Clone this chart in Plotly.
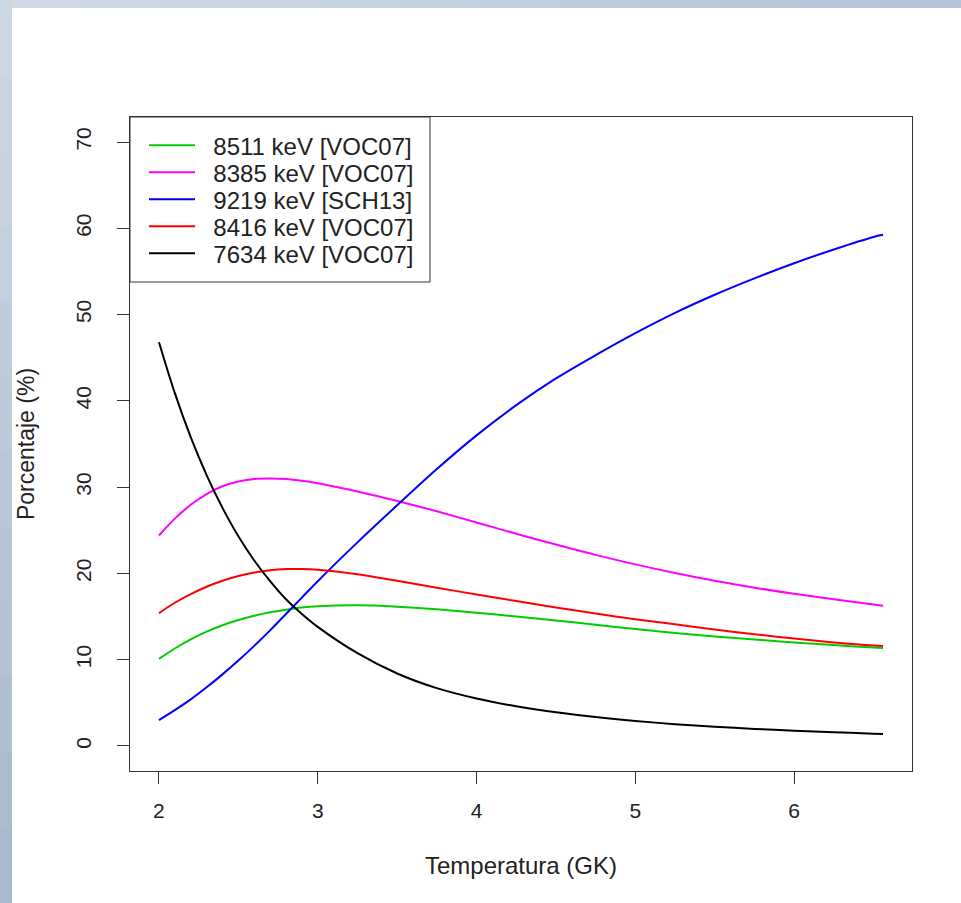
import plotly.graph_objects as go

# Temperature grid (GK)
temperatura = [2.0, 2.1, 2.2, 2.3, 2.4, 2.5, 2.6, 2.7, 2.8, 2.9, 3.0,
               3.25, 3.5, 3.75, 4.0, 4.25, 4.5, 4.75, 5.0, 5.25, 5.5, 5.75,
               6.0, 6.25, 6.5, 6.56]

# Percentage contributions
verde_8511 = [10.1, 11.3, 12.35, 13.25, 14.0, 14.6, 15.1, 15.5, 15.8, 16.05, 16.2,
              16.3, 16.15, 15.85, 15.45, 15.0, 14.55, 14.05, 13.55, 13.1, 12.7, 12.35,
              12.0, 11.7, 11.4, 11.35]
magenta_8385 = [24.4, 26.35, 27.95, 29.2, 30.1, 30.65, 30.95, 31.0, 30.95, 30.75, 30.45,
                29.5, 28.4, 27.2, 25.9, 24.6, 23.35, 22.15, 21.05, 20.05, 19.15, 18.35,
                17.65, 17.0, 16.4, 16.25]
azul_9219 = [3.0, 4.15, 5.4, 6.8, 8.3, 9.9, 11.6, 13.4, 15.3, 17.2, 19.1,
             23.6, 27.9, 32.1, 36.0, 39.5, 42.6, 45.3, 47.85, 50.2, 52.3, 54.2,
             55.95, 57.55, 59.0, 59.25]
rojo_8416 = [15.4, 16.6, 17.6, 18.45, 19.15, 19.7, 20.1, 20.38, 20.5, 20.5, 20.42,
             19.9, 19.15, 18.35, 17.55, 16.8, 16.05, 15.35, 14.7, 14.1, 13.5, 12.95,
             12.45, 12.0, 11.65, 11.6]
negro_7634 = [46.8, 40.9, 35.8, 31.4, 27.6, 24.3, 21.5, 19.1, 17.0, 15.3, 13.8,
              10.75, 8.4, 6.7, 5.5, 4.6, 3.9, 3.35, 2.9, 2.53, 2.23, 1.98,
              1.77, 1.59, 1.43, 1.40]

series_names = ["8511 keV [VOC07]", "8385 keV [VOC07]", "9219 keV [SCH13]",
                "8416 keV [VOC07]", "7634 keV [VOC07]"]
series_values = [verde_8511, magenta_8385, azul_9219, rojo_8416, negro_7634]
series_colors = ["#00CD00", "#FF00FF", "#0000FF", "#FF0000", "#000000"]

x_ticks = [2, 3, 4, 5, 6]
y_ticks = [0, 10, 20, 30, 40, 50, 60, 70]

FONT = "Liberation Sans, Arial, Helvetica, sans-serif"

W, H = 961, 903
L, R, T, B = 130, 49, 117, 132
pw, ph = W - L - R, H - T - B


def px_x(p):
    return (p - L) / pw


def px_y(p):
    return (H - B - p) / ph


def mix(c1, c2, t):
    a = [int(c1[i:i + 2], 16) for i in (1, 3, 5)]
    b = [int(c2[i:i + 2], 16) for i in (1, 3, 5)]
    return "#%02x%02x%02x" % tuple(round(a[k] + (b[k] - a[k]) * t) for k in range(3))


fig = go.Figure()
legend_ids = ["legend", "legend2", "legend3", "legend4", "legend5"]
for name, vals, col, lg in zip(series_names, series_values, series_colors, legend_ids):
    fig.add_trace(go.Scatter(x=temperatura, y=vals, mode="lines",
                             name="\u00a0\u00a0" + name, legend=lg,
                             line=dict(color=col, width=2, shape="spline", smoothing=0.9)))

legend_layout = {}
row0, row_gap = 145.7, 27.0
for i, lg in enumerate(legend_ids):
    legend_layout[lg] = dict(
        x=px_x(144), y=px_y(row0 + i * row_gap), xanchor="left", yanchor="middle",
        bgcolor="rgba(0,0,0,0)", borderwidth=0,
        font=dict(size=24, family=FONT, color="#222222"),
        itemwidth=46)

# background: blue gradient strips on the left and top of the screenshot
shapes = []
n = 12
for i in range(n):
    shapes.append(dict(type="rect", xref="paper", yref="paper", layer="below",
                       x0=px_x(i * W / n), x1=px_x((i + 1) * W / n + 1),
                       y0=px_y(8), y1=px_y(0),
                       fillcolor=mix("#d0dae6", "#b3c4d9", i / (n - 1)), line=dict(width=0)))
    shapes.append(dict(type="rect", xref="paper", yref="paper", layer="below",
                       x0=px_x(0), x1=px_x(12),
                       y0=px_y((i + 1) * H / n + 1), y1=px_y(i * H / n),
                       fillcolor=mix("#ccd7e4", "#a9bace", i / (n - 1)), line=dict(width=0)))
shapes.append(dict(type="rect", xref="paper", yref="paper", layer="below",
                   x0=px_x(12), x1=px_x(W + 5), y0=px_y(H + 5), y1=px_y(8),
                   fillcolor="white", line=dict(width=0)))
# legend frame
shapes.append(dict(type="rect", xref="paper", yref="paper", layer="above",
                   x0=px_x(130), x1=px_x(430), y0=px_y(282), y1=px_y(117),
                   fillcolor="rgba(0,0,0,0)", line=dict(color="#333333", width=1)))

fig.update_layout(
    width=W, height=H,
    margin=dict(l=L, r=R, t=T, b=B, autoexpand=False),
    paper_bgcolor="#bfcddd",
    plot_bgcolor="white",
    font=dict(family=FONT, color="#222222"),
    showlegend=True,
    xaxis=dict(range=[1.8176, 6.7424], tickvals=x_ticks, ticktext=[str(v) for v in x_ticks],
               showgrid=False, zeroline=False, showline=True, mirror=True,
               linecolor="#333333", linewidth=1, ticks="outside", ticklen=12,
               tickcolor="#333333", tickfont=dict(size=21, family=FONT),
               ticklabelstandoff=9,
               title=dict(text="Temperatura (GK)", font=dict(size=24, family=FONT),
                          standoff=35)),
    yaxis=dict(range=[-2.9, 72.9], tickvals=y_ticks, ticktext=[str(v) for v in y_ticks],
               showgrid=False, zeroline=False, showline=True, mirror=True,
               linecolor="#333333", linewidth=1, ticks="outside", ticklen=12,
               tickcolor="#333333", tickangle=-90, tickfont=dict(size=21, family=FONT),
               ticklabelstandoff=18,
               title=dict(text="Porcentaje (%)", font=dict(size=23, family=FONT),
                          standoff=30)),
    shapes=shapes,
    **legend_layout,
)

fig.write_html("out.html", config={"displayModeBar": False},
               post_script="document.body.style.margin='0';document.body.style.padding='0';")
